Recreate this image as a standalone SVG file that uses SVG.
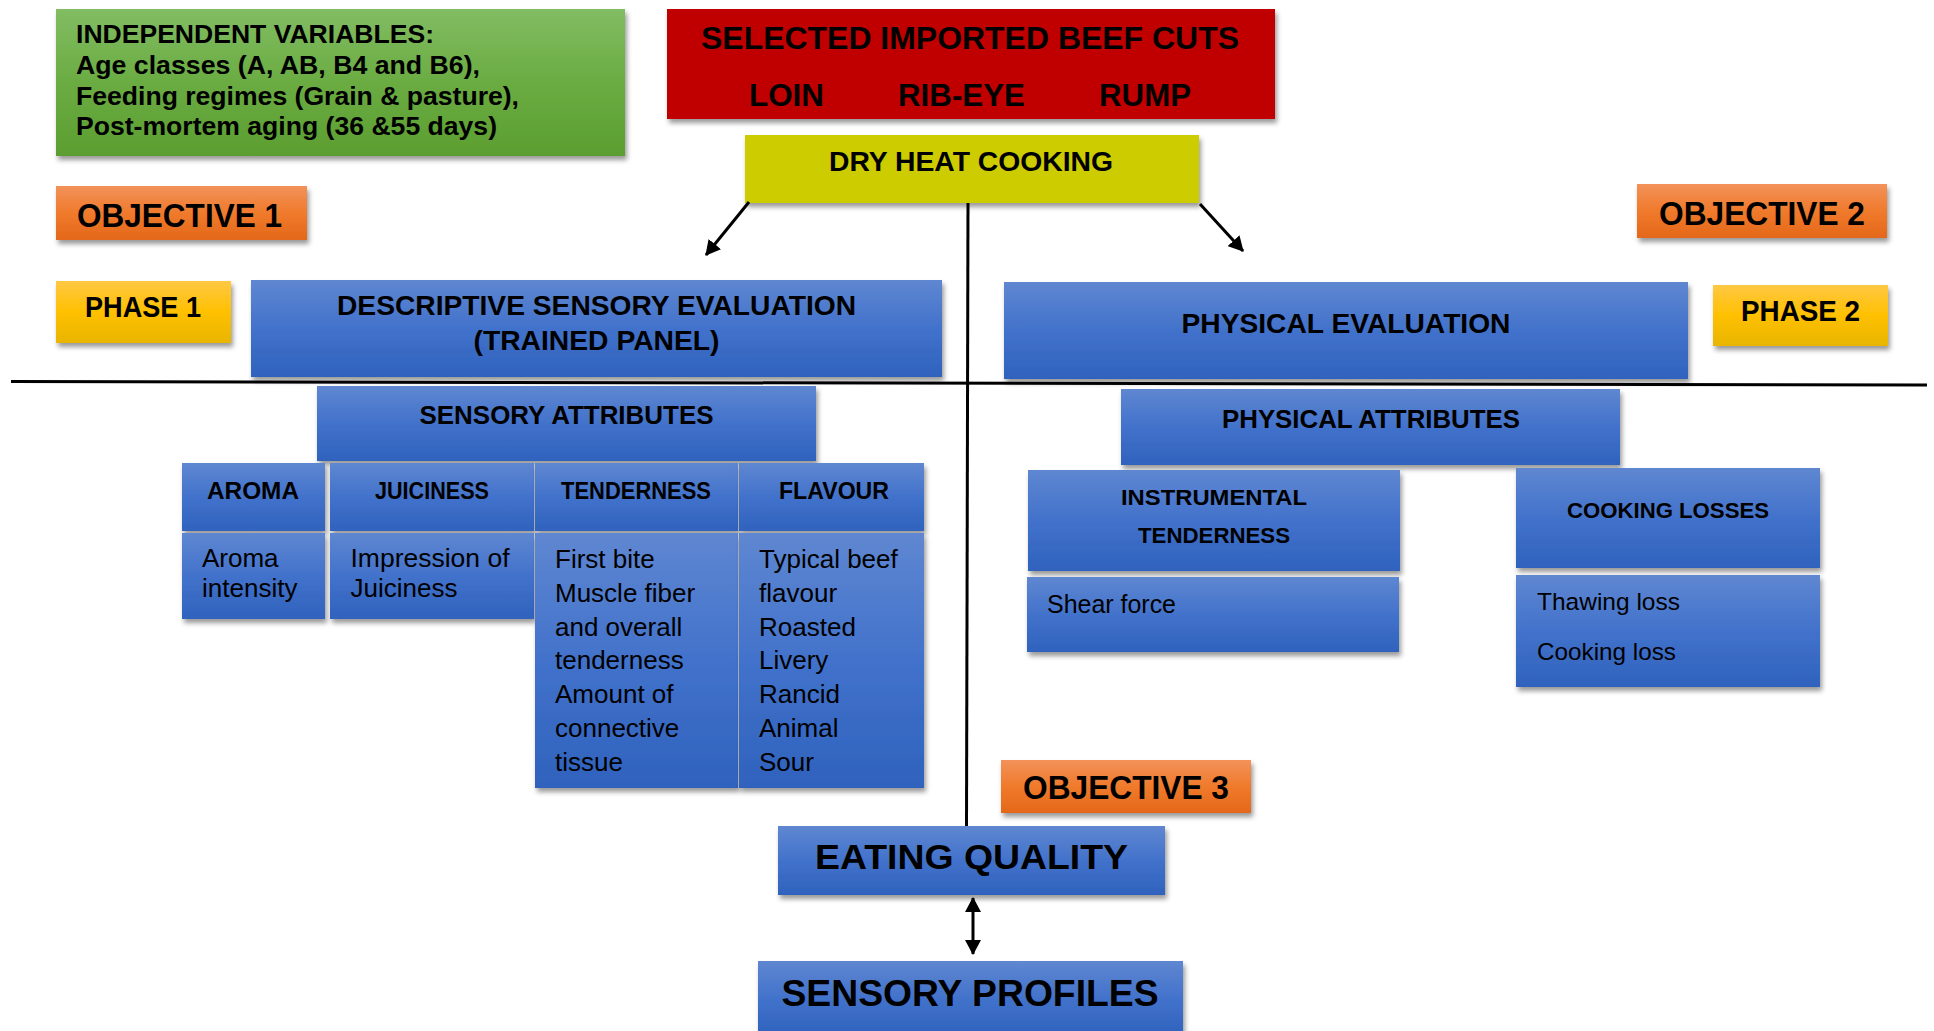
<svg xmlns="http://www.w3.org/2000/svg" width="1934" height="1031" viewBox="0 0 1934 1031">
<defs>
<style>
.b{font-family:"Liberation Sans",Arial,sans-serif;font-weight:bold;fill:#000}
.r{font-family:"Liberation Sans",Arial,sans-serif;font-weight:normal;fill:#000}
.c{text-anchor:middle}
.blue{fill:url(#gBlue);filter:url(#sh)}
.ln{stroke:#000;stroke-width:3;fill:none}
.ar{stroke:#000;stroke-width:3;fill:none}
</style>
<linearGradient id="gBlue" x1="0" y1="0" x2="0" y2="1">
<stop offset="0" stop-color="#5f87d1"/><stop offset="0.5" stop-color="#4272cb"/><stop offset="1" stop-color="#2f62bd"/>
</linearGradient>
<linearGradient id="gGreen" x1="0" y1="0" x2="0" y2="1">
<stop offset="0" stop-color="#82bc63"/><stop offset="0.5" stop-color="#6aac42"/><stop offset="1" stop-color="#5c9e30"/>
</linearGradient>
<linearGradient id="gOrange" x1="0" y1="0" x2="0" y2="1">
<stop offset="0" stop-color="#f2925a"/><stop offset="0.5" stop-color="#f07a2c"/><stop offset="1" stop-color="#e4681a"/>
</linearGradient>
<linearGradient id="gYellow" x1="0" y1="0" x2="0" y2="1">
<stop offset="0" stop-color="#ffc844"/><stop offset="0.5" stop-color="#ffc000"/><stop offset="1" stop-color="#e8b500"/>
</linearGradient>
<filter id="sh" x="-10%" y="-10%" width="125%" height="140%">
<feDropShadow dx="2" dy="4" stdDeviation="2.5" flood-color="#000" flood-opacity="0.4"/>
</filter>
<marker id="ah" viewBox="0 0 15 16" refX="14" refY="8" markerWidth="15" markerHeight="16" markerUnits="userSpaceOnUse" orient="auto-start-reverse">
<path d="M0,0 L15,8 L0,16 z" fill="#000"/>
</marker>
</defs>
<rect width="1934" height="1031" fill="#fff"/>

<g id="divider">
<line class="ln" x1="11" y1="381.5" x2="1927" y2="385"/>
</g>

<g id="independent-variables">
<rect x="56" y="9" width="569" height="147" fill="url(#gGreen)" filter="url(#sh)"/>
<text class="b" x="76" y="43" font-size="26" textLength="358" lengthAdjust="spacingAndGlyphs">INDEPENDENT VARIABLES:</text>
<text class="b" x="76" y="74" font-size="26" textLength="404" lengthAdjust="spacingAndGlyphs">Age classes (A, AB, B4 and B6),</text>
<text class="b" x="76" y="105" font-size="26" textLength="443" lengthAdjust="spacingAndGlyphs">Feeding regimes (Grain &amp; pasture),</text>
<text class="b" x="76" y="135" font-size="26" textLength="421" lengthAdjust="spacingAndGlyphs">Post-mortem aging (36 &amp;55 days)</text>
</g>

<g id="beef-cuts">
<rect x="667" y="9" width="608" height="110" fill="#c00000" filter="url(#sh)"/>
<text class="b c" x="970" y="49" font-size="31" textLength="538" lengthAdjust="spacingAndGlyphs">SELECTED IMPORTED BEEF CUTS</text>
<text class="b c" x="786.5" y="106" font-size="32" textLength="75" lengthAdjust="spacingAndGlyphs">LOIN</text>
<text class="b c" x="961.5" y="106" font-size="32" textLength="127" lengthAdjust="spacingAndGlyphs">RIB-EYE</text>
<text class="b c" x="1145" y="106" font-size="32" textLength="92" lengthAdjust="spacingAndGlyphs">RUMP</text>
</g>

<g id="dry-heat-cooking">
<rect x="745" y="135" width="454" height="68" fill="#cccc00" filter="url(#sh)"/>
<text class="b c" x="971" y="171" font-size="28" textLength="284" lengthAdjust="spacingAndGlyphs">DRY HEAT COOKING</text>
</g>

<g id="objective-1">
<rect x="56" y="186" width="251" height="54" fill="url(#gOrange)" filter="url(#sh)"/>
<text class="b c" x="179.5" y="227" font-size="33" textLength="205" lengthAdjust="spacingAndGlyphs">OBJECTIVE 1</text>
</g>

<g id="objective-2">
<rect x="1637" y="184" width="250" height="54" fill="url(#gOrange)" filter="url(#sh)"/>
<text class="b c" x="1762" y="225" font-size="33" textLength="206" lengthAdjust="spacingAndGlyphs">OBJECTIVE 2</text>
</g>

<g id="phase-1">
<rect x="56" y="281" width="175" height="62" fill="url(#gYellow)" filter="url(#sh)"/>
<text class="b c" x="143" y="317" font-size="29" textLength="116" lengthAdjust="spacingAndGlyphs">PHASE 1</text>
</g>

<g id="phase-2">
<rect x="1713" y="285" width="175" height="61" fill="url(#gYellow)" filter="url(#sh)"/>
<text class="b c" x="1800.5" y="321" font-size="29" textLength="119" lengthAdjust="spacingAndGlyphs">PHASE 2</text>
</g>

<g id="descriptive-sensory-evaluation">
<rect class="blue" x="251" y="280" width="691" height="97"/>
<text class="b c" x="596.5" y="315" font-size="28" textLength="519" lengthAdjust="spacingAndGlyphs">DESCRIPTIVE SENSORY EVALUATION</text>
<text class="b c" x="596.5" y="350" font-size="28" textLength="246" lengthAdjust="spacingAndGlyphs">(TRAINED PANEL)</text>
</g>

<g id="physical-evaluation">
<rect class="blue" x="1004" y="282" width="684" height="97"/>
<text class="b c" x="1346" y="333" font-size="28" textLength="329" lengthAdjust="spacingAndGlyphs">PHYSICAL EVALUATION</text>
</g>

<g id="sensory-attributes">
<rect class="blue" x="317" y="386" width="499" height="75"/>
<text class="b c" x="566.5" y="424" font-size="25" textLength="294" lengthAdjust="spacingAndGlyphs">SENSORY ATTRIBUTES</text>
</g>

<g id="physical-attributes">
<rect class="blue" x="1121" y="389" width="499" height="76"/>
<text class="b c" x="1371" y="428" font-size="26" textLength="298" lengthAdjust="spacingAndGlyphs">PHYSICAL ATTRIBUTES</text>
</g>

<g id="aroma">
<rect class="blue" x="182" y="463" width="143" height="68"/>
<text class="b c" x="253" y="499" font-size="23" textLength="92" lengthAdjust="spacingAndGlyphs">AROMA</text>
<rect class="blue" x="182" y="533" width="143" height="86"/>
<text class="r" x="202" y="567" font-size="26">Aroma</text>
<text class="r" x="202" y="597" font-size="26">intensity</text>
</g>

<g id="juiciness">
<rect class="blue" x="330" y="463" width="204" height="68"/>
<text class="b c" x="432" y="499" font-size="23" textLength="114" lengthAdjust="spacingAndGlyphs">JUICINESS</text>
<rect class="blue" x="330" y="533" width="204" height="86"/>
<text class="r" x="350.5" y="567" font-size="26" textLength="159" lengthAdjust="spacingAndGlyphs">Impression of</text>
<text class="r" x="350.5" y="597" font-size="26">Juiciness</text>
</g>

<g id="tenderness">
<rect class="blue" x="535" y="463" width="203" height="68"/>
<text class="b c" x="636" y="499" font-size="23" textLength="150" lengthAdjust="spacingAndGlyphs">TENDERNESS</text>
<rect class="blue" x="535" y="533" width="203" height="255"/>
<text class="r" font-size="26">
<tspan x="555" y="568">First bite</tspan>
<tspan x="555" y="602">Muscle fiber</tspan>
<tspan x="555" y="636">and overall</tspan>
<tspan x="555" y="669">tenderness</tspan>
<tspan x="555" y="703">Amount of</tspan>
<tspan x="555" y="737">connective</tspan>
<tspan x="555" y="771">tissue</tspan>
</text>
</g>

<g id="flavour">
<rect class="blue" x="739" y="463" width="185" height="68"/>
<text class="b c" x="834" y="499" font-size="23" textLength="110" lengthAdjust="spacingAndGlyphs">FLAVOUR</text>
<rect class="blue" x="739" y="533" width="185" height="255"/>
<text class="r" font-size="26">
<tspan x="759" y="568">Typical beef</tspan>
<tspan x="759" y="602">flavour</tspan>
<tspan x="759" y="636">Roasted</tspan>
<tspan x="759" y="669">Livery</tspan>
<tspan x="759" y="703">Rancid</tspan>
<tspan x="759" y="737">Animal</tspan>
<tspan x="759" y="771">Sour</tspan>
</text>
</g>

<g id="instrumental-tenderness">
<rect class="blue" x="1028" y="470" width="372" height="101"/>
<text class="b c" x="1214" y="505" font-size="22" textLength="186" lengthAdjust="spacingAndGlyphs">INSTRUMENTAL</text>
<text class="b c" x="1214" y="543" font-size="22" textLength="152" lengthAdjust="spacingAndGlyphs">TENDERNESS</text>
<rect class="blue" x="1027" y="577" width="372" height="75"/>
<text class="r" x="1047" y="613" font-size="25" textLength="129" lengthAdjust="spacingAndGlyphs">Shear force</text>
</g>

<g id="cooking-losses">
<rect class="blue" x="1516" y="468" width="304" height="100"/>
<text class="b c" x="1668" y="518" font-size="22" textLength="202" lengthAdjust="spacingAndGlyphs">COOKING LOSSES</text>
<rect class="blue" x="1516" y="575" width="304" height="112"/>
<text class="r" x="1537" y="610" font-size="24.5" textLength="143" lengthAdjust="spacingAndGlyphs">Thawing loss</text>
<text class="r" x="1537" y="660" font-size="24.5" textLength="139" lengthAdjust="spacingAndGlyphs">Cooking loss</text>
</g>

<g id="objective-3">
<rect x="1001" y="760" width="250" height="53" fill="url(#gOrange)" filter="url(#sh)"/>
<text class="b c" x="1126" y="799" font-size="33" textLength="206" lengthAdjust="spacingAndGlyphs">OBJECTIVE 3</text>
</g>

<g id="eating-quality">
<rect class="blue" x="778" y="826" width="387" height="69"/>
<text class="b c" x="971.5" y="869" font-size="35" textLength="313" lengthAdjust="spacingAndGlyphs">EATING QUALITY</text>
</g>

<g id="sensory-profiles">
<rect class="blue" x="758" y="961" width="425" height="75"/>
<text class="b c" x="970" y="1006" font-size="36" textLength="377" lengthAdjust="spacingAndGlyphs">SENSORY PROFILES</text>
</g>

<g id="connectors">
<line class="ln" x1="968" y1="203" x2="966.5" y2="826"/>
<line class="ar" x1="749" y1="202" x2="706" y2="255" marker-end="url(#ah)"/>
<line class="ar" x1="1200" y1="204" x2="1243" y2="251" marker-end="url(#ah)"/>
<line class="ar" x1="973" y1="898" x2="973" y2="954" marker-start="url(#ah)" marker-end="url(#ah)"/>
</g>
</svg>
